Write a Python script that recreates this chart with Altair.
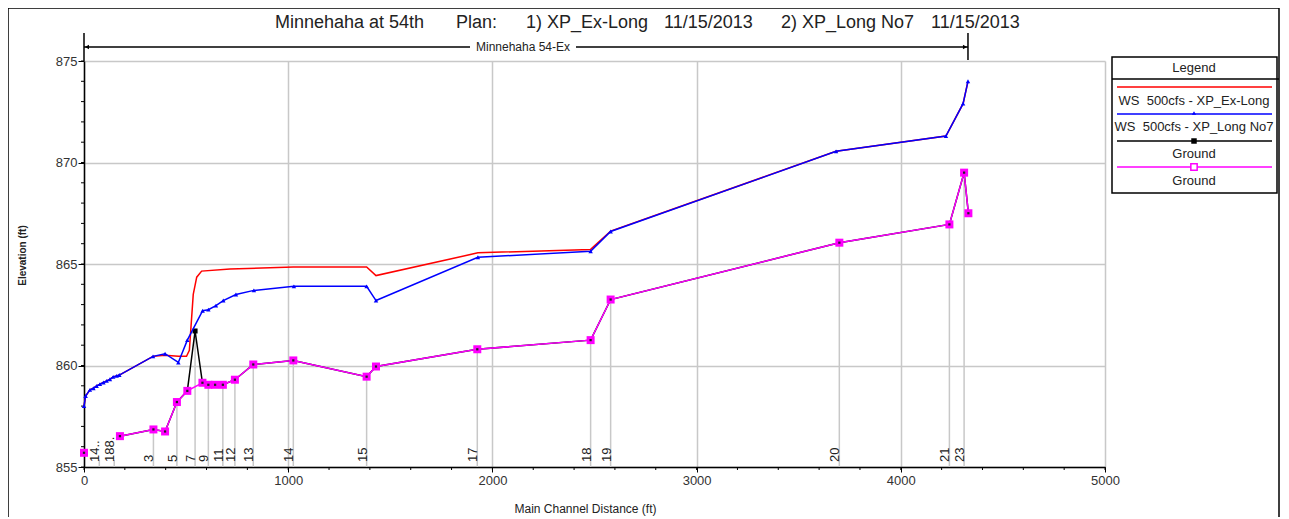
import altair as alt
import pandas as pd

F = "Liberation Sans"
GRID = "#c8c8c8"
W, H = 1021, 406

# ---------------- data ----------------
# WS 500cfs - XP_Ex-Long (red)
ex_x = [0, 8, 29, 46, 62, 78, 95, 111, 127, 143, 160, 173, 338, 397, 462, 502, 516, 535, 552, 576,
        715, 1025, 1384, 1430, 1929, 2481, 2579, 3683, 4221, 4305, 4329]
ex_y = [858.0, 858.5, 858.8, 858.88, 858.99, 859.08, 859.16, 859.24, 859.32, 859.44, 859.49, 859.53,
        860.45, 860.5, 860.45, 860.45, 860.75, 863.5, 864.35, 864.65,
        864.75, 864.85, 864.85, 864.43, 865.55, 865.72, 866.62, 870.55, 871.3, 872.9, 874.0]

# WS 500cfs - XP_Long No7 (blue)
no7_x = [0, 8, 29, 46, 62, 78, 95, 111, 127, 143, 160, 173, 338, 397, 462, 506, 581, 609, 646, 682,
         744, 832, 1028, 1384, 1430, 1929, 2481, 2579, 3683, 4221, 4305, 4329]
no7_y = [858.0, 858.5, 858.8, 858.88, 858.99, 859.08, 859.16, 859.24, 859.32, 859.44, 859.49, 859.53,
         860.45, 860.58, 860.15, 861.25, 862.7, 862.75, 862.95, 863.2,
         863.5, 863.7, 863.9, 863.9, 863.2, 865.33, 865.63, 866.6, 870.55, 871.3, 872.9, 874.0]

# Ground, plan 1 (black)
gr1_x = [0, 176, 340, 397, 455, 506, 544, 580, 609, 642, 680, 739, 829, 1025, 1384, 1430, 1926,
         2481, 2579, 3699, 4238, 4310, 4331]
gr1_y = [855.7, 856.52, 856.85, 856.75, 858.2, 858.75, 861.7, 859.15, 859.05, 859.05, 859.05, 859.3,
         860.05, 860.25, 859.45, 859.95, 860.8, 861.25, 863.25, 866.05, 866.95, 869.5, 867.5]
gr1_seg = [0] + [1] * 22

# Ground, plan 2 (magenta)
gr2_x = [0, 176, 340, 397, 455, 506, 580, 609, 642, 680, 739, 829, 1025, 1384, 1430, 1926,
         2481, 2579, 3699, 4238, 4310, 4331]
gr2_y = [855.7, 856.52, 856.85, 856.75, 858.2, 858.75, 859.15, 859.05, 859.05, 859.05, 859.3,
         860.05, 860.25, 859.45, 859.95, 860.8, 861.25, 863.25, 866.05, 866.95, 869.5, 867.5]
gr2_seg = [0] + [1] * 21

# cross-section markers
xs_station = [75, 148, 340, 455, 544, 609, 680, 739, 829, 1025, 1384, 1926, 2481, 2579, 3699, 4238, 4310]
xs_top = [855.35, 855.35, 856.85, 858.2, 861.7, 859.05, 859.05, 859.3, 860.05, 860.25, 859.45,
          860.8, 861.25, 863.25, 866.05, 866.95, 869.5]
xs_label = ["14..", "188.", "3", "5", "7", "9", "11", "12", "13", "14", "15", "17", "18", "19",
            "20", "21", "23"]

x_ticks = [0, 1000, 2000, 3000, 4000, 5000]
y_ticks = [855, 860, 865, 870, 875]
x_minor = list(range(0, 5001, 200))
y_minor = list(range(855, 876))

reach_name = "Minnehaha 54-Ex"
title_parts = ["Minnehaha at 54th", "Plan:", "1) XP_Ex-Long", "11/15/2013", "2) XP_Long No7", "11/15/2013"]
legend_labels = ["WS\u00a0\u00a0500cfs - XP_Ex-Long", "WS\u00a0\u00a0500cfs - XP_Long No7", "Ground", "Ground"]

# ---------------- scales / axes ----------------
xscale = alt.Scale(domain=[0, 5000], nice=False, zero=False)
yscale = alt.Scale(domain=[855, 875], nice=False, zero=False)

xaxis = alt.Axis(values=x_ticks, format="d", title="Main Channel Distance (ft)",
                 grid=True, gridColor=GRID, gridWidth=1.5,
                 domainColor="black", domainWidth=1.5, tickColor="black", tickSize=5, tickWidth=1,
                 labelFont=F, labelFontSize=13, labelColor="#333", labelPadding=2, labelFlush=False,
                 titleFont=F, titleFontSize=12, titleFontWeight="normal", titleColor="#222",
                 titleX=501, titleY=41, titleBaseline="middle", titleAlign="center")
yaxis = alt.Axis(values=y_ticks, format="d", title="Elevation (ft)",
                 grid=True, gridColor=GRID, gridWidth=1.5,
                 domainColor="black", domainWidth=1.5, tickColor="black", tickSize=6, tickWidth=1,
                 labelFont=F, labelFontSize=13, labelColor="#333", labelPadding=1, labelFlush=False,
                 titleFont=F, titleFontSize=10, titleFontWeight="bold", titleColor="#222",
                 titleX=-62, titleY=194, titleAngle=270, titleBaseline="middle", titleAlign="center")


def X(f="x"):
    return alt.X(f"{f}:Q", scale=xscale, axis=xaxis)


def Y(f="y"):
    return alt.Y(f"{f}:Q", scale=yscale, axis=yaxis)


dummy = pd.DataFrame({"d": [0]})

red_df = pd.DataFrame({"x": ex_x, "y": ex_y})
blue_df = pd.DataFrame({"x": no7_x, "y": no7_y})
g1_df = pd.DataFrame({"x": gr1_x, "y": gr1_y, "seg": gr1_seg})
g2_df = pd.DataFrame({"x": gr2_x, "y": gr2_y, "seg": gr2_seg})
xs_df = pd.DataFrame({"x": xs_station, "y": xs_top, "label": xs_label})
xmin_df = pd.DataFrame({"x": x_minor})
ymin_df = pd.DataFrame({"y": y_minor})
reach_df = pd.DataFrame({"x": [min(no7_x)], "x2": [max(no7_x)]})
reach_end_df = pd.DataFrame({"x": [max(no7_x)]})
reach_start_df = pd.DataFrame({"x": [min(no7_x)]})

layers = []

# outer frame
layers.append(alt.Chart(dummy).mark_rect(fill="white", fillOpacity=0, stroke="black", strokeWidth=1.5).encode(
    x=alt.value(-76), x2=alt.value(1195), y=alt.value(-53), y2=alt.value(470)))

# minor ticks
layers.append(alt.Chart(xmin_df).mark_rule(color="black", strokeWidth=1).encode(
    x=X(), y=alt.value(H), y2=alt.value(H + 3)))
layers.append(alt.Chart(ymin_df).mark_rule(color="black", strokeWidth=1).encode(
    y=Y(), x=alt.value(-3), x2=alt.value(0)))

# cross-section lines
layers.append(alt.Chart(xs_df).mark_rule(color=GRID, strokeWidth=1.5).encode(
    x=X(), y=Y(), y2=alt.value(H)))

# ground plan 1 (black)
layers.append(alt.Chart(g1_df).mark_line(color="black", strokeWidth=1.5).encode(
    x=X(), y=Y(), detail="seg:N", order="x:Q"))
layers.append(alt.Chart(g1_df).mark_point(shape="square", filled=True, color="black", size=25, opacity=1).encode(
    x=X(), y=Y()))

# WS red
layers.append(alt.Chart(red_df).mark_line(color="#ff0000", strokeWidth=1.5).encode(x=X(), y=Y(), order="x:Q"))
# WS blue
layers.append(alt.Chart(blue_df).mark_line(color="#0000ff", strokeWidth=1.5).encode(x=X(), y=Y(), order="x:Q"))
layers.append(alt.Chart(blue_df).mark_point(shape="triangle-up", filled=True, color="#0000ff", size=20, opacity=1).encode(
    x=X(), y=Y()))

# ground plan 2 (magenta)
layers.append(alt.Chart(g2_df).mark_line(color="#ff00ff", strokeWidth=1.5).encode(
    x=X(), y=Y(), detail="seg:N", order="x:Q"))
layers.append(alt.Chart(g2_df).mark_point(shape="square", filled=True, color="#ff00ff", size=64, opacity=1).encode(
    x=X(), y=Y()))
layers.append(alt.Chart(g2_df).mark_point(shape="square", filled=True, color="#222", size=5, opacity=1).encode(
    x=X(), y=Y()))

# cross-section labels
layers.append(alt.Chart(xs_df).mark_text(angle=270, align="left", baseline="alphabetic", font=F,
                                         fontSize=13, color="#222").encode(
    x=X(), y=alt.value(H - 5), text="label:N"))

# y axis extension above the plot
layers.append(alt.Chart(dummy).mark_rule(color="black", strokeWidth=1.5).encode(
    x=alt.value(0), y=alt.value(-28), y2=alt.value(0)))

# reach line with label
layers.append(alt.Chart(reach_df).mark_rule(color="black", strokeWidth=1.5).encode(
    x=X(), x2="x2:Q", y=alt.value(-14)))
layers.append(alt.Chart(reach_end_df).mark_rule(color="black", strokeWidth=1.5).encode(
    x=X(), y=alt.value(-28), y2=alt.value(-1)))
layers.append(alt.Chart(reach_start_df).mark_point(shape="triangle-left", filled=True, color="black", size=22, opacity=1,
                                                   xOffset=3).encode(x=X(), y=alt.value(-14)))
layers.append(alt.Chart(reach_end_df).mark_point(shape="triangle-right", filled=True, color="black", size=22, opacity=1,
                                                 xOffset=-3).encode(x=X(), y=alt.value(-14)))
layers.append(alt.Chart(dummy).mark_rect(fill="white").encode(
    x=alt.value(386), x2=alt.value(492), y=alt.value(-20), y2=alt.value(-8)))
layers.append(alt.Chart(dummy).mark_text(font=F, fontSize=12, color="#222", align="center", baseline="middle").encode(
    x=alt.value(439), y=alt.value(-14), text=alt.value(reach_name)))

# title pieces
title_x = [275, 456, 526, 664, 781, 931]
for tx, tt in zip(title_x, title_parts):
    layers.append(alt.Chart(dummy).mark_text(font=F, fontSize=18, color="#222", align="left",
                                             baseline="alphabetic").encode(
        x=alt.value(tx - 84), y=alt.value(-33), text=alt.value(tt)))

# legend
LX0, LX1, LC = 1028, 1193, 1110
layers.append(alt.Chart(dummy).mark_rect(fill="white", stroke="black", strokeWidth=1.5).encode(
    x=alt.value(LX0), x2=alt.value(LX1), y=alt.value(-4), y2=alt.value(132)))
layers.append(alt.Chart(dummy).mark_rule(color="black", strokeWidth=1.5).encode(
    x=alt.value(LX0), x2=alt.value(LX1 + 2), y=alt.value(18)))
layers.append(alt.Chart(dummy).mark_text(font=F, fontSize=13, color="#222", align="center", baseline="middle").encode(
    x=alt.value(LC), y=alt.value(7), text=alt.value("Legend")))
leg_colors = ["#ff0000", "#0000ff", "black", "#ff00ff"]
leg_line_y = [26, 53, 80, 106]
leg_text_y = [40, 66, 93, 120]
for col, ly, tyy, lab in zip(leg_colors, leg_line_y, leg_text_y, legend_labels):
    layers.append(alt.Chart(dummy).mark_rule(color=col, strokeWidth=1.5).encode(
        x=alt.value(LX0 + 5), x2=alt.value(LX1 - 5), y=alt.value(ly)))
    layers.append(alt.Chart(dummy).mark_text(font=F, fontSize=13, color="#222", align="center",
                                             baseline="middle").encode(
        x=alt.value(LC), y=alt.value(tyy), text=alt.value(lab)))
layers.append(alt.Chart(dummy).mark_point(shape="triangle-up", filled=True, color="#0000ff", size=18, opacity=1).encode(
    x=alt.value(LC), y=alt.value(52)))
layers.append(alt.Chart(dummy).mark_point(shape="square", filled=True, color="black", size=30, opacity=1).encode(
    x=alt.value(LC), y=alt.value(80)))
layers.append(alt.Chart(dummy).mark_point(shape="square", filled=True, fill="white", stroke="#ff00ff", strokeWidth=1.5,
                                          size=40, opacity=1).encode(x=alt.value(LC), y=alt.value(106)))

chart = alt.layer(*layers).properties(
    width=W, height=H,
    padding={"left": 76, "top": 53, "right": 176, "bottom": 50},
    autosize=alt.AutoSizeParams(type="none"),
    background="white",
).configure_view(stroke=None)

chart.save("out.html", embed_options={"renderer": "svg", "actions": False})
